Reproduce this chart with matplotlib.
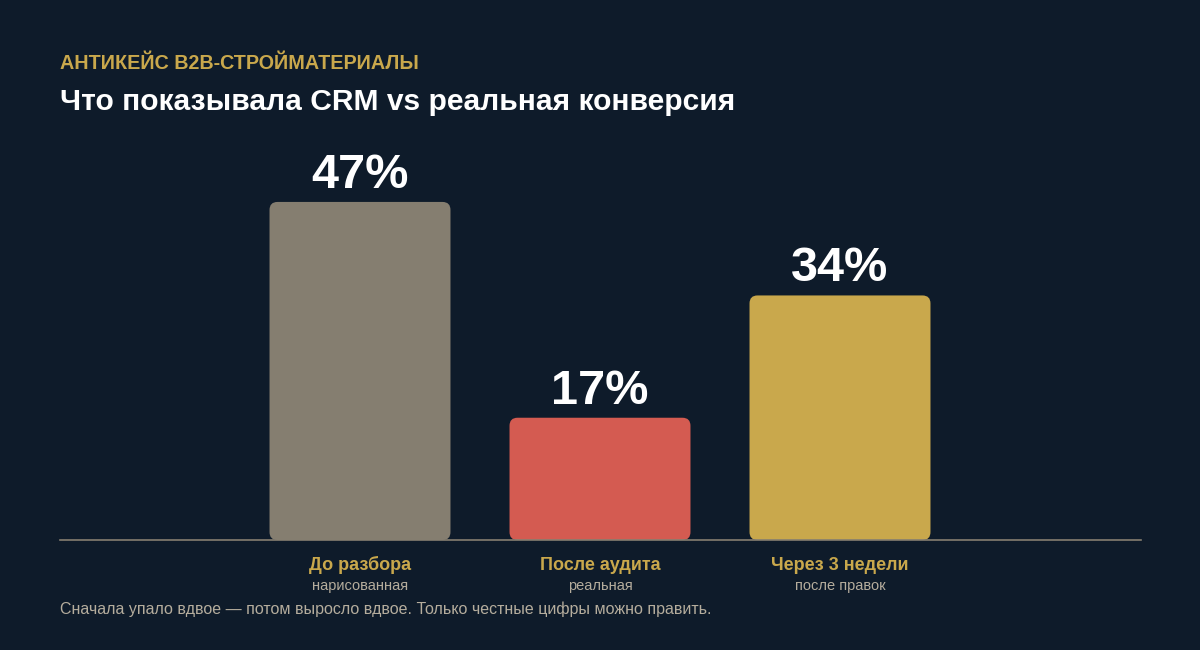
import matplotlib
matplotlib.use("Agg")
import matplotlib.pyplot as plt
from matplotlib.patches import FancyBboxPatch

plt.rcParams['font.family'] = ['Liberation Sans', 'DejaVu Sans']

categories = ["До разбора", "После аудита", "Через 3 недели"]
subtitles = ["нарисованная", "реальная", "после правок"]
values = [47, 17, 34]
colors = ["#857e70", "#d45b51", "#c9a84c"]

BG = "#0e1b2a"
GOLD = "#c9a84c"

fig = plt.figure(figsize=(12, 6.5), dpi=100, facecolor=BG)
ax = fig.add_axes([0.05, 0.1692, 0.9008, 0.6308])
ax.set_facecolor(BG)
ax.set_xlim(-1.25, 3.254)
ax.set_ylim(0, 57)

# bars with rounded corners
width = 0.754
px_x = (3.254 + 1.25) / 1081
px_y = 57 / 410
for i, (v, c) in enumerate(zip(values, colors)):
    ax.add_patch(FancyBboxPatch((i - width / 2, 0), width, v,
                                boxstyle=f"round,pad=0,rounding_size={8 * px_x}",
                                mutation_aspect=px_y / px_x,
                                facecolor=c, edgecolor="none"))
    ax.annotate(f"{v}%", (i, v), xytext=(0, 14), textcoords="offset pixels",
                ha="center", va="baseline", fontsize=35, fontweight="bold",
                color="white")

ax.axhline(0, color="#857e70", lw=1.2, clip_on=False, zorder=3)
for s in ax.spines.values():
    s.set_visible(False)
ax.set_xticks([])
ax.set_yticks([])

for i, (cat, sub) in enumerate(zip(categories, subtitles)):
    ax.annotate(cat, (i, 0), xytext=(0, -30), textcoords="offset pixels",
                ha="center", va="baseline", fontsize=13, fontweight="bold",
                color=GOLD)
    ax.annotate(sub, (i, 0), xytext=(0, -50), textcoords="offset pixels",
                ha="center", va="baseline", fontsize=10.5, color="#b5ad9d")

fig.text(60 / 1200, 1 - 69 / 650, "АНТИКЕЙС B2B-СТРОЙМАТЕРИАЛЫ", fontsize=14.2,
         fontweight="bold", color=GOLD, va="baseline")
fig.text(60 / 1200, 1 - 110 / 650, "Что показывала CRM vs реальная конверсия",
         fontsize=21.6, fontweight="bold", color="white", va="baseline")
fig.text(60 / 1200, 1 - 614 / 650,
         "Сначала упало вдвое — потом выросло вдвое. Только честные цифры можно править.",
         fontsize=11.5, color="#b5ad9d", va="baseline")

fig.savefig("out.png", dpi=100, facecolor=BG)
